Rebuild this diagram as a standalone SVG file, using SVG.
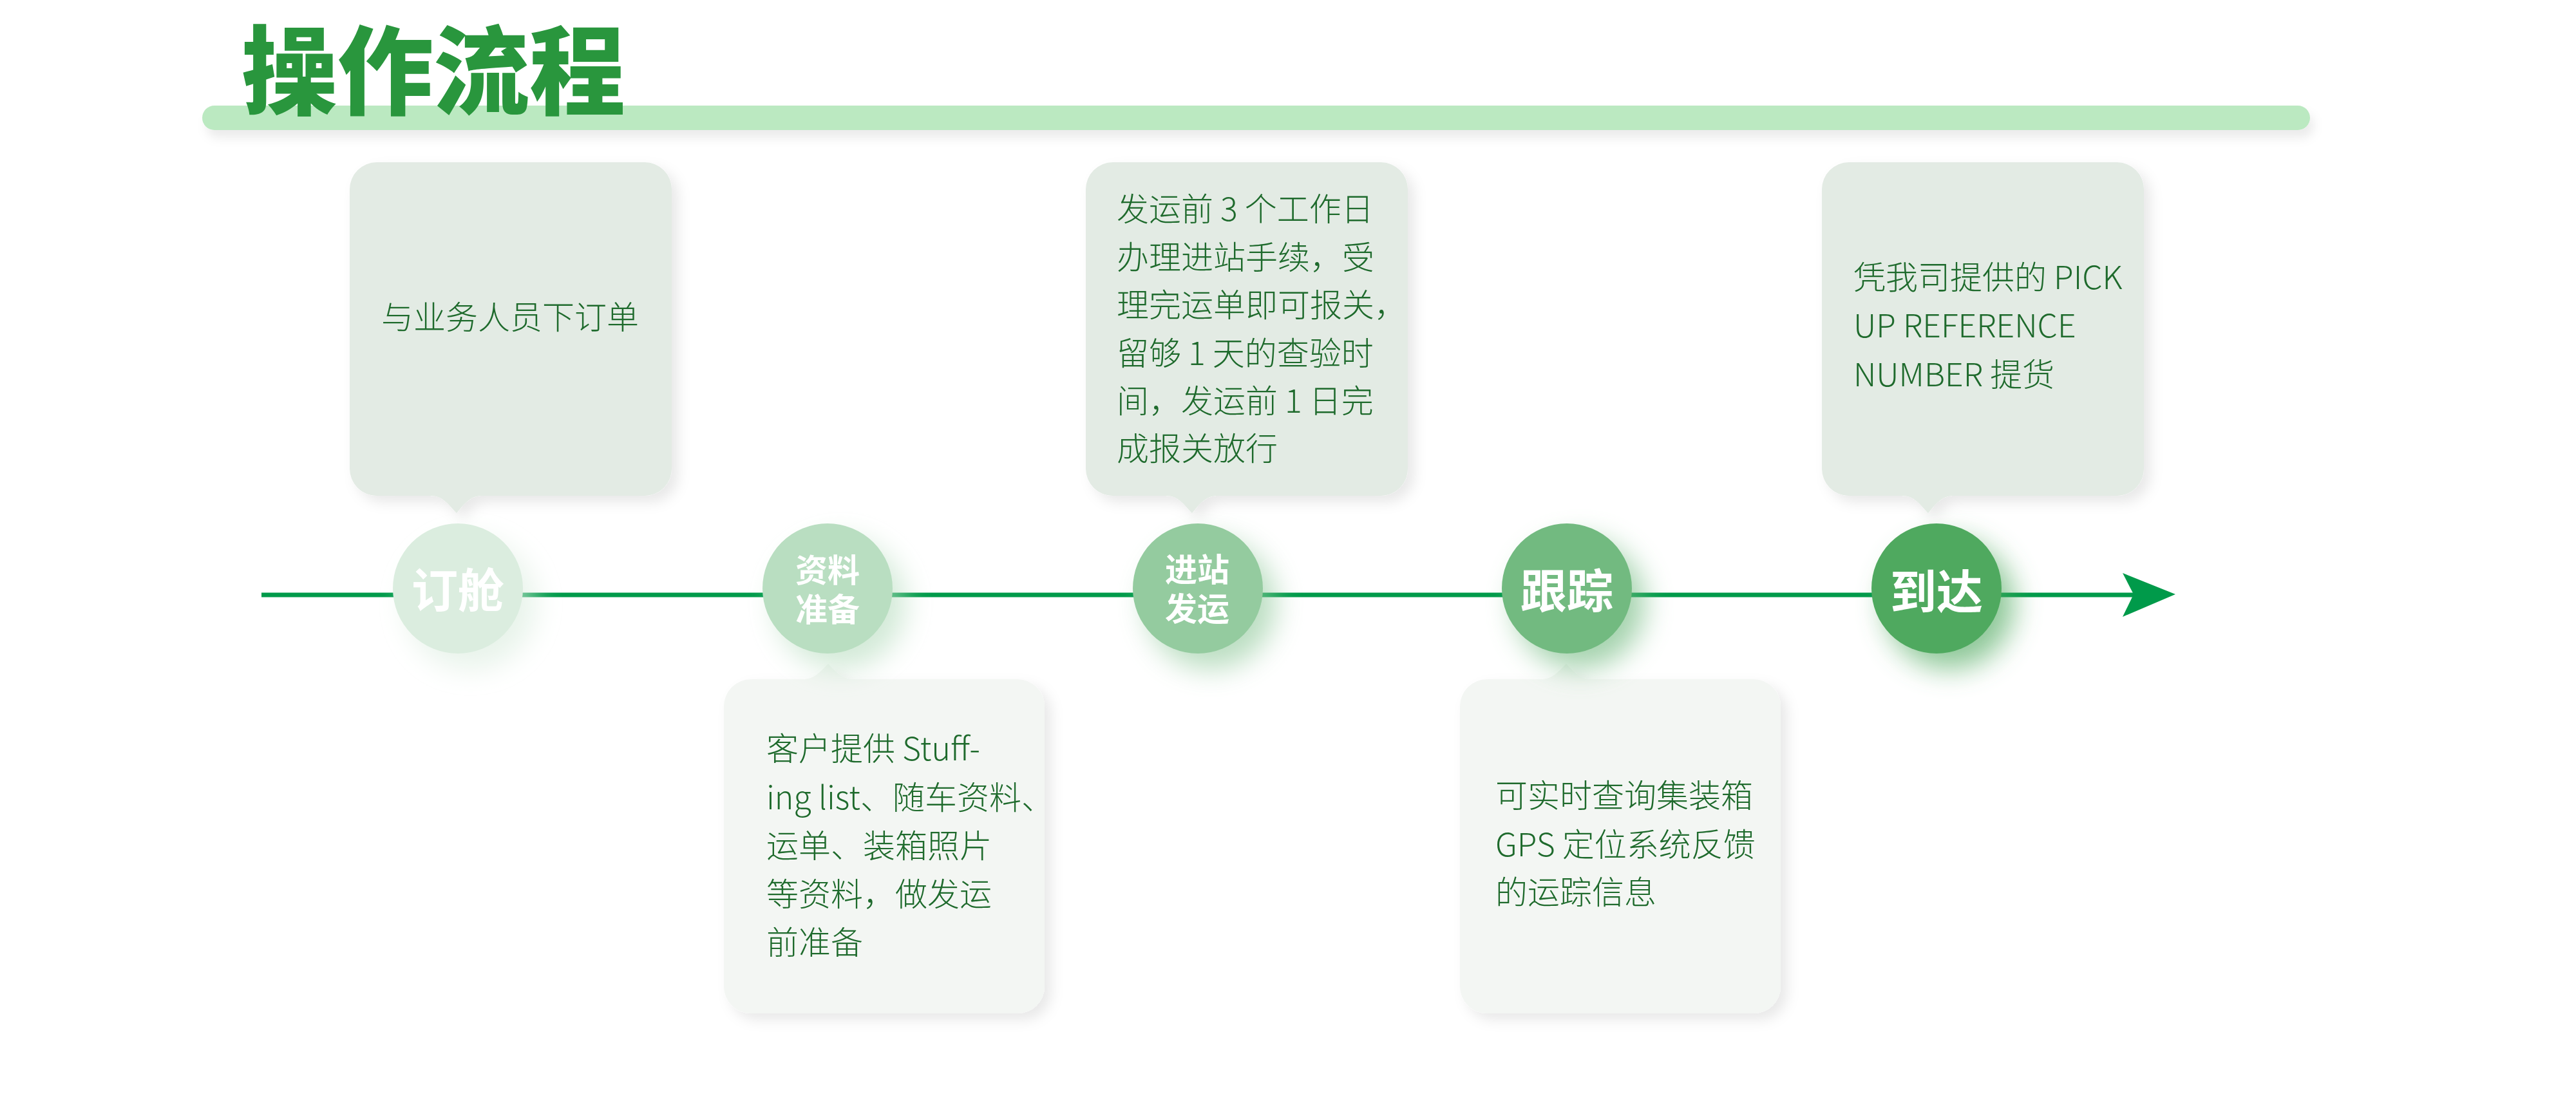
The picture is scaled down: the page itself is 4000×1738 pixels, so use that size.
<svg xmlns="http://www.w3.org/2000/svg" width="4000" height="1738" viewBox="0 0 4000 1738">
  <defs>
    <style>
      .title { font-family: "Noto Sans CJK SC", sans-serif; font-weight: 900; font-size: 150px; fill: #29963d; }
      .desc { font-family: "Noto Sans CJK SC", sans-serif; font-weight: 300; font-size: 50px; fill: #1e6a2c; }
      .lbl { font-family: "Noto Sans CJK SC", sans-serif; font-weight: 700; fill: #ffffff; text-anchor: middle; }
      .big { font-size: 72px; }
      .small { font-size: 50px; }
      .boxTop { fill: #e3ebe4; filter: url(#boxShadow); }
      .boxBot { fill: #f3f6f3; filter: url(#boxShadow); }
      .conn { stroke: #009a4a; stroke-width: 7; fill: none; }
    </style>
    <filter id="boxShadow" x="-20%" y="-20%" width="140%" height="140%">
      <feDropShadow dx="10" dy="10" stdDeviation="10" flood-color="#000000" flood-opacity="0.09"/>
    </filter>
    <filter id="barShadow" x="-5%" y="-100%" width="110%" height="300%">
      <feDropShadow dx="6" dy="12" stdDeviation="8" flood-color="#000000" flood-opacity="0.08"/>
    </filter>
    <filter id="glow" x="-60%" y="-60%" width="220%" height="220%">
      <feGaussianBlur in="SourceGraphic" stdDeviation="22" result="b"/>
      <feOffset in="b" dx="20" dy="24" result="o"/>
      <feComponentTransfer in="o" result="s">
        <feFuncA type="linear" slope="0.65"/>
      </feComponentTransfer>
      <feMerge>
        <feMergeNode in="s"/>
        <feMergeNode in="SourceGraphic"/>
      </feMerge>
    </filter>
  </defs>

  <rect width="4000" height="1738" fill="#ffffff"/>

  <g id="header">
    <rect x="314" y="164" width="3273" height="38" rx="19" fill="#bbe9c1" filter="url(#barShadow)"/>
    <text class="title" x="375" y="166" textLength="596" lengthAdjust="spacingAndGlyphs">操作流程</text>
  </g>

  <g id="connectors">
    <line class="conn" x1="406" y1="924" x2="3316" y2="924"/>
    <polygon points="3296,890 3378,923 3296,958 3313,923" fill="#009a4a"/>
  </g>

  <g id="node-1">
    <path class="boxTop" d="M585,252 H1001 A42,42 0 0 1 1043,294 V728 A42,42 0 0 1 1001,770 H749 C731,770 723,780 709,797 C695,782 687,770 669,770 H585 A42,42 0 0 1 543,728 V294 A42,42 0 0 1 585,252 Z"/>
    <text class="desc" x="792" y="511" text-anchor="middle">与业务人员下订单</text>
    <circle cx="711" cy="914" r="101" fill="#dbeddf" filter="url(#glow)"/>
    <text class="lbl big" x="711" y="943">订舱</text>
  </g>

  <g id="node-2">
    <path class="boxBot" d="M1166,1055 H1246 C1264,1055 1272,1045 1286,1031 C1300,1045 1308,1055 1326,1055 H1580 A42,42 0 0 1 1622,1097 V1532 A42,42 0 0 1 1580,1574 H1166 A42,42 0 0 1 1124,1532 V1097 A42,42 0 0 1 1166,1055 Z"/>
    <text class="desc">
      <tspan x="1190" y="1181">客户提供 Stuff-</tspan>
      <tspan x="1190" y="1257">ing list、随车资料、</tspan>
      <tspan x="1190" y="1332">运单、装箱照片</tspan>
      <tspan x="1190" y="1407">等资料，做发运</tspan>
      <tspan x="1190" y="1482">前准备</tspan>
    </text>
    <circle cx="1285" cy="914" r="101" fill="#b9dec1" filter="url(#glow)"/>
    <text class="lbl small"><tspan x="1285" y="904">资料</tspan><tspan x="1285" y="965">准备</tspan></text>
  </g>

  <g id="node-3">
    <path class="boxTop" d="M1728,252 H2144 A42,42 0 0 1 2186,294 V728 A42,42 0 0 1 2144,770 H1891 C1873,770 1865,780 1851,797 C1837,782 1829,770 1811,770 H1728 A42,42 0 0 1 1686,728 V294 A42,42 0 0 1 1728,252 Z"/>
    <text class="desc">
      <tspan x="1734" y="343">发运前 3 个工作日</tspan>
      <tspan x="1734" y="418">办理进站手续，受</tspan>
      <tspan x="1734" y="492">理完运单即可报关，</tspan>
      <tspan x="1734" y="567">留够 1 天的查验时</tspan>
      <tspan x="1734" y="641">间，发运前 1 日完</tspan>
      <tspan x="1734" y="715">成报关放行</tspan>
    </text>
    <circle cx="1860" cy="914" r="101" fill="#94cb9f" filter="url(#glow)"/>
    <text class="lbl small"><tspan x="1859" y="903">进站</tspan><tspan x="1859" y="964">发运</tspan></text>
  </g>

  <g id="node-4">
    <path class="boxBot" d="M2309,1055 H2392 C2410,1055 2418,1045 2432,1031 C2446,1045 2454,1055 2472,1055 H2723 A42,42 0 0 1 2765,1097 V1532 A42,42 0 0 1 2723,1574 H2309 A42,42 0 0 1 2267,1532 V1097 A42,42 0 0 1 2309,1055 Z"/>
    <text class="desc">
      <tspan x="2322" y="1254">可实时查询集装箱</tspan>
      <tspan x="2322" y="1330">GPS 定位系统反馈</tspan>
      <tspan x="2322" y="1404">的运踪信息</tspan>
    </text>
    <circle cx="2433" cy="914" r="101" fill="#72ba80" filter="url(#glow)"/>
    <text class="lbl big" x="2433" y="944">跟踪</text>
  </g>

  <g id="node-5">
    <path class="boxTop" d="M2871,252 H3287 A42,42 0 0 1 3329,294 V728 A42,42 0 0 1 3287,770 H3034 C3016,770 3008,780 2994,797 C2980,782 2972,770 2954,770 H2871 A42,42 0 0 1 2829,728 V294 A42,42 0 0 1 2871,252 Z"/>
    <text class="desc">
      <tspan x="2878" y="449">凭我司提供的 PICK</tspan>
      <tspan x="2878" y="524">UP REFERENCE</tspan>
      <tspan x="2878" y="600">NUMBER 提货</tspan>
    </text>
    <circle cx="3007" cy="914" r="101" fill="#4fa95f" filter="url(#glow)"/>
    <text class="lbl big" x="3007" y="945">到达</text>
  </g>
</svg>
